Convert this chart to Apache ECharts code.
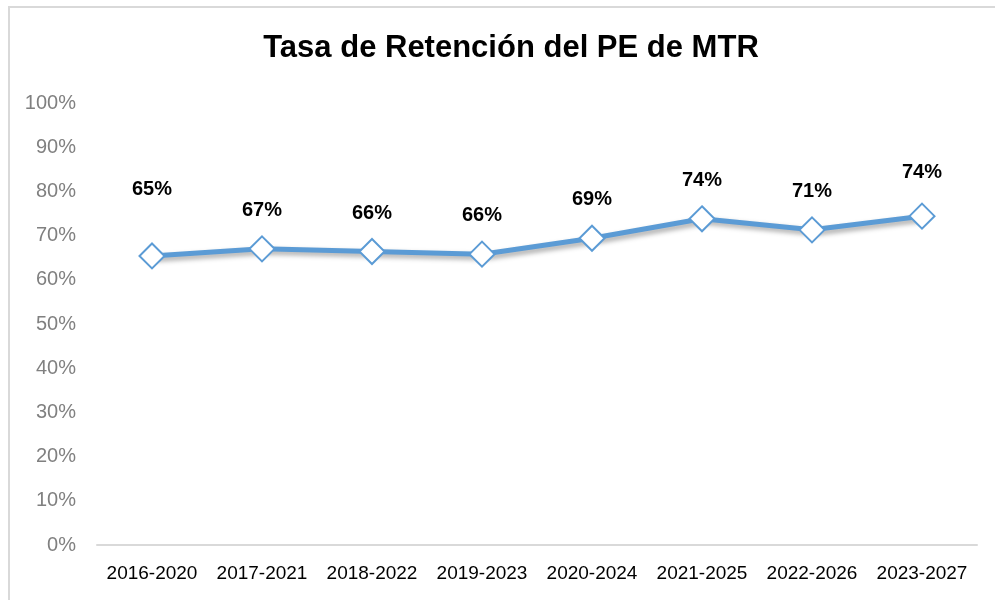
<!DOCTYPE html>
<html>
<head>
<meta charset="utf-8">
<script src="https://cdn.jsdelivr.net/npm/echarts@6/dist/echarts.min.js"></script>
<style>
  html, body { margin: 0; padding: 0; background: #fff; }
  #chart { width: 995px; height: 600px; }
</style>
</head>
<body>
<div id="chart"></div>
<script>
// data
const periods = ['2016-2020', '2017-2021', '2018-2022', '2019-2023', '2020-2024', '2021-2025', '2022-2026', '2023-2027']
const retention = [65.4, 67.0, 66.4, 65.8, 69.4, 73.8, 71.3, 74.4]
const labelTexts = ['65%', '67%', '66%', '66%', '69%', '74%', '71%', '74%']

const narrow = '"Liberation Sans Narrow", "Arial Narrow", "Liberation Sans", Arial, sans-serif'
// distance of each label from its marker
const labelGap = [43, 15, 15, 15, 15, 15, 15, 20]

const chart = echarts.init(document.getElementById('chart'))

const option = {
  backgroundColor: '#FFFFFF',
  animation: false,
  title: {
    text: 'Tasa de Retención del PE de MTR',
    left: 506,
    textAlign: 'center',
    top: 28,
    textStyle: {
      fontFamily: narrow,
      fontWeight: 'bold',
      fontSize: 31,
      color: '#000'
    }
  },
  graphic: [{
    type: 'rect',
    shape: { x: 9, y: 7, width: 1100, height: 700 },
    style: { fill: 'none', stroke: '#D9D9D9', lineWidth: 2 },
    silent: true
  }],
  grid: {
    left: 97,
    right: 18,
    top: 103,
    bottom: 55
  },
  xAxis: {
    type: 'category',
    data: periods,
    boundaryGap: true,
    axisLine: { lineStyle: { color: '#D9D9D9', width: 2 } },
    axisTick: { show: false },
    axisLabel: {
      interval: 0,
      fontFamily: narrow,
      fontSize: 19,
      color: '#000',
      margin: 19
    }
  },
  yAxis: {
    type: 'value',
    min: 0,
    max: 100,
    interval: 10,
    axisLine: { show: false },
    axisTick: { show: false },
    splitLine: { show: false },
    axisLabel: {
      fontFamily: narrow,
      fontSize: 20,
      color: '#808080',
      margin: 21,
      formatter: '{value}%'
    }
  },
  series: [{
    type: 'line',
    data: retention.map((v, i) => ({
      value: v,
      label: { distance: labelGap[i] }
    })),
    symbol: 'diamond',
    symbolSize: 25,
    showAllSymbol: true,
    itemStyle: {
      color: '#FFFFFF',
      borderColor: '#5B9BD5',
      borderWidth: 2
    },
    lineStyle: {
      color: '#5B9BD5',
      width: 5,
      shadowColor: 'rgba(0,0,0,0.35)',
      shadowBlur: 5,
      shadowOffsetX: 3,
      shadowOffsetY: 3
    },
    label: {
      show: true,
      position: 'top',
      fontFamily: narrow,
      fontWeight: 'bold',
      fontSize: 20,
      color: '#000',
      formatter: p => labelTexts[p.dataIndex]
    },
    z: 3
  }]
}

chart.setOption(option)
</script>
</body>
</html>
